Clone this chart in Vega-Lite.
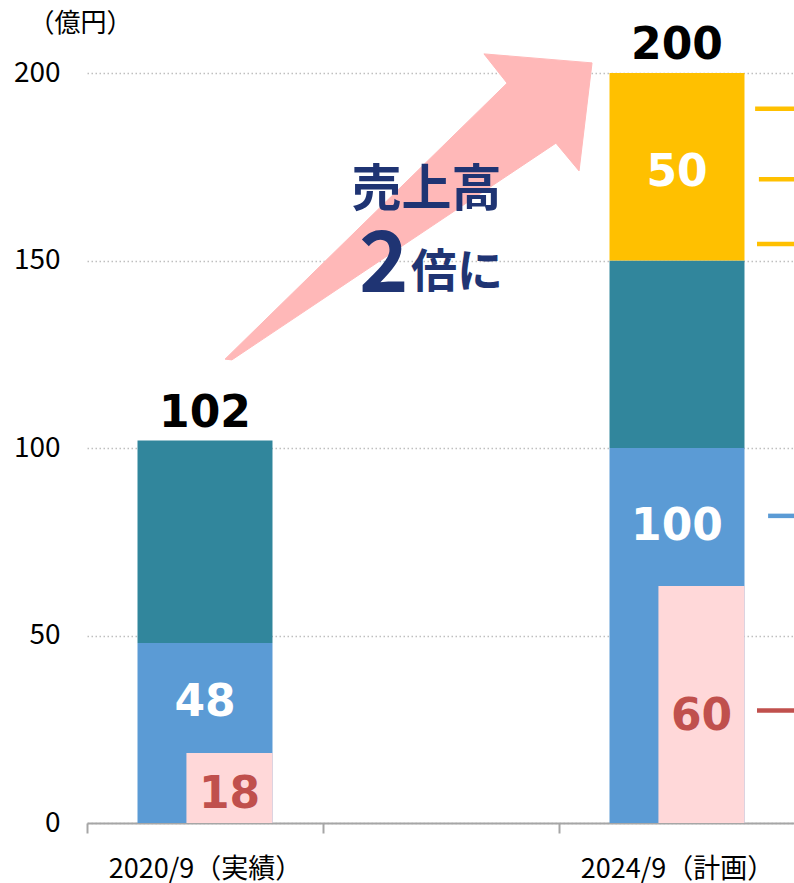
{
  "$schema": "https://vega.github.io/schema/vega-lite/v6.json",
  "width": 708,
  "height": 750,
  "autosize": "none",
  "padding": {"left": 87, "top": 73, "right": 0, "bottom": 60},
  "background": "white",
  "config": {"view": {"stroke": null}, "font": "Noto Sans CJK JP"},
  "datasets": {
    "bars": [
      {"period": "2020/9（実績）", "segment": "A", "value": 48},
      {"period": "2020/9（実績）", "segment": "B", "value": 54},
      {"period": "2024/9（計画）", "segment": "A", "value": 100},
      {"period": "2024/9（計画）", "segment": "B", "value": 50},
      {"period": "2024/9（計画）", "segment": "C", "value": 50}
    ],
    "pink": [
      {"period": "2020/9（実績）", "segment": "P", "value": 18.7, "label": 18, "blue": 48, "total": 102},
      {"period": "2024/9（計画）", "segment": "P", "value": 63.2, "label": 60, "blue": 100, "total": 200}
    ],
    "arrow": [
      {"i": 1, "x": 0.585, "y": 123.7},
      {"i": 2, "x": 1.78, "y": 197.3},
      {"i": 3, "x": 1.682, "y": 205.1},
      {"i": 4, "x": 2.14, "y": 202.7},
      {"i": 5, "x": 2.085, "y": 173.9},
      {"i": 6, "x": 1.987, "y": 181.3},
      {"i": 7, "x": 0.614, "y": 123.5}
    ],
    "dashes": [
      {"g": "C", "x": 2.831, "x2": 3.0, "y": 190.5},
      {"g": "C", "x": 2.847, "x2": 3.0, "y": 171.7},
      {"g": "C", "x": 2.839, "x2": 3.0, "y": 154.4},
      {"g": "A", "x": 2.886, "x2": 3.0, "y": 81.9},
      {"g": "R", "x": 2.839, "x2": 3.0, "y": 30.0}
    ],
    "note": [
      {"t": "売上高", "x": 1.439, "y": 168.5},
      {"t": "2", "x": 1.258, "y": 141.6},
      {"t": "倍に", "x": 1.373, "y": 146.7}
    ]
  },
  "resolve": {"scale": {"x": "independent"}, "axis": {"x": "independent"}},
  "layer": [
    {
      "data": {"name": "arrow"},
      "mark": {"type": "line", "fill": "#ffb8b8", "stroke": "#ffb8b8", "strokeWidth": 1, "interpolate": "linear-closed"},
      "encoding": {
        "x": {"field": "x", "type": "quantitative", "scale": {"domain": [0, 3], "nice": false, "zero": false}, "axis": null},
        "y": {"field": "y", "type": "quantitative", "title": "（億円）"},
        "order": {"field": "i", "type": "quantitative"}
      }
    },
    {
      "encoding": {
        "x": {
          "field": "period", "type": "nominal", "title": null,
          "scale": {"domain": ["2020/9（実績）", "gap", "2024/9（計画）"], "paddingInner": 0, "paddingOuter": 0},
          "axis": {
            "labelExpr": "datum.value == 'gap' ? '' : datum.value",
            "tickBand": "extent", "domainColor": "#a6a6a6", "domainWidth": 2,
            "tickColor": "#a6a6a6", "tickWidth": 2, "tickSize": 10, "labelLimit": 0,
            "labelFontSize": 27, "labelColor": "#000000", "labelPadding": 23, "labelAngle": 0, "grid": false
          }
        }
      },
      "layer": [
        {
          "data": {"name": "bars"},
          "mark": {"type": "bar", "width": {"band": 0.572}},
          "encoding": {
            "y": {
              "field": "value", "type": "quantitative", "aggregate": "sum", "stack": "zero", "title": "（億円）",
              "scale": {"domain": [0, 200], "nice": false},
              "axis": {
                "values": [0, 50, 100, 150, 200], "domain": false, "ticks": false, "tickSize": 0,
                "labelFontSize": 28, "labelColor": "#000000", "labelPadding": 27,
                "gridColor": "#bfbfbf", "gridWidth": 1.5, "gridDash": [1.5, 2.5],
                "titleAngle": 0, "titleAlign": "left", "titleBaseline": "middle",
                "titleX": -59, "titleY": -50, "titleFontSize": 26, "titleFontWeight": "normal", "titleColor": "#000000"
              }
            },
            "color": {
              "field": "segment", "type": "nominal", "legend": null,
              "scale": {"domain": ["A", "B", "C", "P", "R"], "range": ["#5b9bd5", "#31869c", "#ffc000", "#ffd8d9", "#c0504d"]}
            },
            "order": {"field": "segment", "type": "nominal", "sort": "ascending"}
          }
        },
        {
          "data": {"name": "pink"},
          "mark": {"type": "bar", "width": {"band": 0.365}, "xOffset": 24.5},
          "encoding": {
            "y": {"field": "value", "type": "quantitative", "title": "（億円）"},
            "color": {"field": "segment", "type": "nominal", "legend": null}
          }
        },
        {
          "data": {"name": "pink"},
          "mark": {"type": "text", "font": "DejaVu Sans", "fontWeight": "bold", "fontSize": 44, "color": "#000000", "baseline": "alphabetic", "dy": -14},
          "encoding": {
            "y": {"field": "total", "type": "quantitative", "title": "（億円）"},
            "text": {"field": "total", "type": "quantitative"}
          }
        },
        {
          "data": {"name": "pink"},
          "transform": [{"calculate": "(datum.label + datum.blue) / 2", "as": "mid"}],
          "mark": {"type": "text", "font": "DejaVu Sans", "fontWeight": "bold", "fontSize": 44, "color": "#ffffff", "baseline": "middle", "dy": 4},
          "encoding": {
            "y": {"field": "mid", "type": "quantitative", "title": "（億円）"},
            "text": {"field": "blue", "type": "quantitative"}
          }
        },
        {
          "data": {"name": "pink"},
          "transform": [{"calculate": "datum.label / 2", "as": "half"}],
          "mark": {"type": "text", "font": "DejaVu Sans", "fontWeight": "bold", "fontSize": 44, "color": "#c0504d", "baseline": "middle", "dy": 6, "xOffset": 24.5},
          "encoding": {
            "y": {"field": "half", "type": "quantitative", "title": "（億円）"},
            "text": {"field": "label", "type": "quantitative"}
          }
        },
        {
          "data": {"name": "bars"},
          "transform": [
            {"window": [{"op": "sum", "field": "value", "as": "cum"}], "groupby": ["period"], "sort": [{"field": "segment"}], "frame": [null, 0]},
            {"calculate": "datum.cum - datum.value / 2", "as": "mid"},
            {"filter": "datum.segment == 'C'"}
          ],
          "mark": {"type": "text", "font": "DejaVu Sans", "fontWeight": "bold", "fontSize": 44, "color": "#ffffff", "baseline": "middle", "dy": 6},
          "encoding": {
            "y": {"field": "mid", "type": "quantitative", "title": "（億円）"},
            "text": {"field": "value", "type": "quantitative"}
          }
        }
      ]
    },
    {
      "encoding": {
        "x": {"field": "x", "type": "quantitative", "scale": {"domain": [0, 3], "nice": false, "zero": false}, "axis": null}
      },
      "layer": [
        {
          "data": {"name": "dashes"},
          "mark": {"type": "rule", "strokeWidth": 4.5},
          "encoding": {
            "x2": {"field": "x2"},
            "y": {"field": "y", "type": "quantitative", "title": "（億円）"},
            "color": {"field": "g", "type": "nominal", "legend": null}
          }
        },
        {
          "data": {"name": "note"},
          "transform": [{"filter": "datum.t == '売上高'"}],
          "mark": {"type": "text", "fontSize": 50, "fontWeight": "bold", "color": "#1f3473", "baseline": "middle", "align": "center"},
          "encoding": {
            "y": {"field": "y", "type": "quantitative", "title": "（億円）"},
            "text": {"field": "t", "type": "nominal"}
          }
        },
        {
          "data": {"name": "note"},
          "transform": [{"filter": "datum.t == '2'"}],
          "mark": {"type": "text", "fontSize": 84, "fontWeight": "bold", "color": "#1f3473", "baseline": "alphabetic", "align": "center"},
          "encoding": {
            "y": {"field": "y", "type": "quantitative", "title": "（億円）"},
            "text": {"field": "t", "type": "nominal"}
          }
        },
        {
          "data": {"name": "note"},
          "transform": [{"filter": "datum.t == '倍に'"}],
          "mark": {"type": "text", "fontSize": 46, "fontWeight": "bold", "color": "#1f3473", "baseline": "middle", "align": "left"},
          "encoding": {
            "y": {"field": "y", "type": "quantitative", "title": "（億円）"},
            "text": {"field": "t", "type": "nominal"}
          }
        }
      ]
    }
  ]
}
